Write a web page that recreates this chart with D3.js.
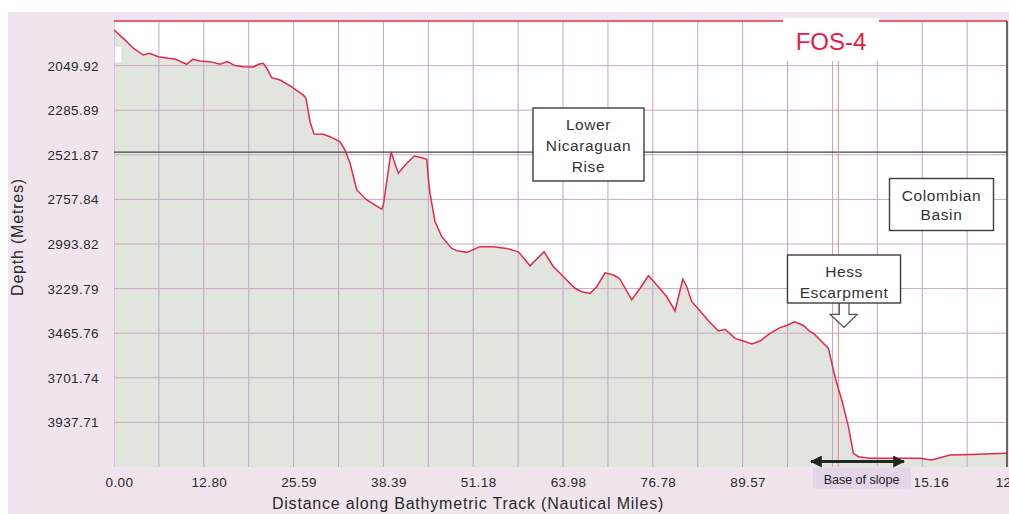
<!DOCTYPE html>
<html>
<head>
<meta charset="utf-8">
<script src="https://cdn.jsdelivr.net/npm/d3@7/dist/d3.min.js"></script>
<style>
  body { margin: 0; background: #fff; }
  svg { display: block; font-family: "Liberation Sans", Arial, sans-serif; }
</style>
</head>
<body>
<svg width="1009" height="514"></svg>
<script>
// profile read from the bathymetric track
const distance = [0, 1.33, 2.75, 4.18, 5.03, 6.31, 7.74, 8.69, 10.36, 11.21, 12.26, 13.68, 15.11, 16.15, 17.24, 18.43,
  19.85, 20.56, 21.28, 21.76, 22.47, 23.66, 25.32, 26.98, 27.36, 27.93, 28.50, 29.82, 30.78, 32.21, 32.92, 33.63,
  34.59, 36.01, 38.15, 38.38, 39.47, 40.51, 41.71, 42.79, 43.61, 44.56, 44.79, 45.03, 45.74, 46.70, 48.12, 48.84,
  50.26, 52.16, 54.05, 55.96, 57.61, 59.28, 61.28, 62.60, 63.56, 64.03, 65.69, 66.65, 67.83, 68.79, 69.97, 71.15,
  72.01, 73.77, 74.96, 76.14, 77.34, 78.76, 79.94, 81.04, 81.61, 82.32, 83.26, 84.69, 86.11, 87.07, 88.49, 89.68,
  90.87, 92.06, 93.48, 94.90, 95.86, 96.97, 98.23, 99.18, 99.65, 101.08, 101.79, 102.50, 102.98, 103.70, 104.64,
  105.35, 106.06, 107.73, 113.43, 114.85, 116.52, 119.13, 121.98, 127.95];
const depth = [1862, 1906, 1958, 1994, 1985, 2003, 2011, 2015, 2043, 2017, 2026, 2029, 2043, 2029, 2050, 2056,
  2057, 2043, 2038, 2064, 2114, 2126, 2162, 2206, 2223, 2347, 2412, 2413, 2426, 2453, 2497, 2567,
  2708, 2761, 2809, 2788, 2506, 2620, 2567, 2528, 2535, 2546, 2646, 2726, 2876, 2955, 3017, 3029,
  3038, 3008, 3008, 3017, 3035, 3109, 3035, 3114, 3149, 3167, 3228, 3246, 3255, 3220, 3146, 3158,
  3175, 3290, 3228, 3162, 3211, 3273, 3348, 3181, 3220, 3299, 3338, 3400, 3454, 3445, 3493, 3507,
  3523, 3507, 3467, 3436, 3425, 3405, 3425, 3458, 3466, 3519, 3546, 3660, 3731, 3819, 3960,
  4101, 4119, 4128, 4128, 4128, 4137, 4110, 4107, 4100];

const xTickLabels = ["0.00", "12.80", "25.59", "38.39", "51.18", "63.98", "76.78", "89.57", "102.37", "115.16", "127.96"];
const yTickLabels = ["2049.92", "2285.89", "2521.87", "2757.84", "2993.82", "3229.79", "3465.76", "3701.74", "3937.71"];
const depthTop = 1813.95;
const depthBottom = 4173.68;
const riseLevel = 2508;      // black reference line
const escarpMark = 103.2;    // red marker line

const svg = d3.select("svg");
const pL = 114, pT = 21, pR = 1007, pB = 467;

const x = d3.scaleLinear().domain([0, 127.95]).range([pL, 1012]);
const y = d3.scaleLinear().domain([depthTop, depthBottom]).range([pT, pB]);

const profile = distance.map((d, i) => ({x: d, y: depth[i]}));
const xTicks = xTickLabels.map(Number);
const yTicks = yTickLabels.map(Number);
// grid every half tick step
const gridX = [];
xTicks.forEach((t, i) => { gridX.push(t); if (i < xTicks.length - 1) gridX.push((t + xTicks[i + 1]) / 2); });

// outer background
svg.append("rect").attr("x", 8).attr("y", 12).attr("width", 1001).attr("height", 502).attr("fill", "#f0e4ef");

const defs = svg.append("defs");
defs.append("clipPath").attr("id", "plot")
  .append("rect").attr("x", pL).attr("y", pT).attr("width", pR - pL).attr("height", pB - pT);
// x labels are hidden where the "Base of slope" label sits
const slopeBox = [813, 915];
const tickClip = defs.append("clipPath").attr("id", "ticks");
tickClip.append("rect").attr("x", 0).attr("y", 467).attr("width", slopeBox[0]).attr("height", 47);
tickClip.append("rect").attr("x", slopeBox[1]).attr("y", 467).attr("width", 1009 - slopeBox[1]).attr("height", 47);

const g = svg.append("g").attr("clip-path", "url(#plot)");
g.append("rect").attr("x", pL).attr("y", pT).attr("width", pR - pL).attr("height", pB - pT).attr("fill", "#fff");

// seabed fill
g.append("path").datum(profile)
  .attr("fill", "#e2e4de")
  .attr("d", d3.area().x(d => x(d.x)).y0(y(depthBottom)).y1(d => y(d.y)));

// grid
g.selectAll("line.gx").data(gridX).enter().append("line")
  .attr("x1", d => x(d)).attr("x2", d => x(d)).attr("y1", pT).attr("y2", pB)
  .attr("stroke", "#bea6c2").attr("stroke-width", 1);
g.selectAll("line.gy").data(yTicks).enter().append("line")
  .attr("x1", pL).attr("x2", pR).attr("y1", d => y(d)).attr("y2", d => y(d))
  .attr("stroke", "#c6aac6").attr("stroke-width", 1);

// reference line
g.append("line").attr("x1", pL).attr("x2", pR).attr("y1", y(riseLevel)).attr("y2", y(riseLevel))
  .attr("stroke", "#3c463c").attr("stroke-width", 1.2);

g.append("line").attr("x1", x(escarpMark)).attr("x2", x(escarpMark)).attr("y1", pT).attr("y2", pB)
  .attr("stroke", "#ec8a78").attr("stroke-width", 1);

// profile line
g.append("path").datum(profile)
  .attr("fill", "none").attr("stroke", "#e2284c").attr("stroke-width", 1.5)
  .attr("d", d3.line().x(d => x(d.x)).y(d => y(d.y)));

// top red border and right border
svg.append("line").attr("x1", pL).attr("x2", pR).attr("y1", pT).attr("y2", pT)
  .attr("stroke", "#e6304c").attr("stroke-width", 1.6);
svg.append("line").attr("x1", pR).attr("x2", pR).attr("y1", pT).attr("y2", pB)
  .attr("stroke", "#3a3a3a").attr("stroke-width", 1.5);

// small white box at top left
svg.append("rect").attr("x", 114.5).attr("y", 46).attr("width", 7.5).attr("height", 17)
  .attr("fill", "#fff").attr("stroke", "#d8d0d8").attr("stroke-width", 0.8);

// title box
svg.append("rect").attr("x", 783).attr("y", 18).attr("width", 96).attr("height", 43).attr("fill", "#fff");
svg.append("text").attr("x", 831).attr("y", 50).attr("text-anchor", "middle")
  .attr("font-size", 24).attr("fill", "#e91a44").text("FOS-4");

// annotation boxes
function note(x0, y0, w, h, lines, lineY) {
  svg.append("rect").attr("x", x0).attr("y", y0).attr("width", w).attr("height", h)
    .attr("fill", "#fff").attr("stroke", "#3c3c3c").attr("stroke-width", 1.4);
  lines.forEach((t, i) => {
    svg.append("text").attr("x", x0 + w / 2).attr("y", lineY[i]).attr("text-anchor", "middle")
      .attr("font-size", 15.5).attr("letter-spacing", 0.6).attr("fill", "#333").text(t);
  });
}

// arrow under Hess box
svg.append("path")
  .attr("d", "M839.3,302 L839.3,314.3 L830,314.3 L844,327.3 L857.3,314.3 L849,314.3 L849,302")
  .attr("fill", "#fff").attr("stroke", "#555").attr("stroke-width", 1.2);

note(533, 108, 111, 73, ["Lower", "Nicaraguan", "Rise"], [130, 151, 172]);
note(889.5, 178.5, 104, 52, ["Colombian", "Basin"], [200.5, 220]);
note(787.5, 255, 113, 48, ["Hess", "Escarpment"], [277, 297.5]);

// y tick labels
svg.selectAll("text.yt").data(yTickLabels).enter().append("text")
  .attr("x", 99).attr("y", d => y(+d) + 5)
  .attr("text-anchor", "end").attr("font-size", 13.5).attr("letter-spacing", 0.4).attr("fill", "#2a2a2a")
  .text(d => d);

// x tick labels (the one under the slope label is fully covered, so it is left out)
const shownX = xTickLabels.filter(d => !(x(+d) + 5.5 > slopeBox[0] && x(+d) + 5.5 < slopeBox[1]));
svg.append("g").attr("clip-path", "url(#ticks)")
  .selectAll("text").data(shownX).enter().append("text")
  .attr("x", d => x(+d) + 5.5).attr("y", 487)
  .attr("text-anchor", "middle").attr("font-size", 13.5).attr("letter-spacing", 0.4).attr("fill", "#2a2a2a")
  .text(d => d);

// base of slope label and arrow
svg.append("rect").attr("x", 813).attr("y", 467.5).attr("width", 98).attr("height", 21).attr("fill", "#e2d6e8");
svg.append("text").attr("x", 861.5).attr("y", 484).attr("text-anchor", "middle")
  .attr("font-size", 12.5).attr("fill", "#222").text("Base of slope");

defs.append("marker").attr("id", "head").attr("viewBox", "0 0 10 10").attr("refX", 9).attr("refY", 5)
  .attr("markerWidth", 4).attr("markerHeight", 4).attr("orient", "auto-start-reverse")
  .append("path").attr("d", "M0,0 L10,5 L0,10 Z").attr("fill", "#1e2a1e");
svg.append("line").attr("x1", 811).attr("x2", 904).attr("y1", 461.5).attr("y2", 461.5)
  .attr("stroke", "#1e2a1e").attr("stroke-width", 3)
  .attr("marker-start", "url(#head)").attr("marker-end", "url(#head)");

// axis titles
svg.append("text").attr("x", 468).attr("y", 509).attr("text-anchor", "middle")
  .attr("font-size", 16).attr("letter-spacing", 0.8).attr("fill", "#2a2a2a")
  .text("Distance along Bathymetric Track (Nautical Miles)");
svg.append("text").attr("transform", "translate(23,237) rotate(-90)").attr("text-anchor", "middle")
  .attr("font-size", 16).attr("letter-spacing", 0.8).attr("fill", "#2a2a2a")
  .text("Depth (Metres)");
</script>
</body>
</html>
